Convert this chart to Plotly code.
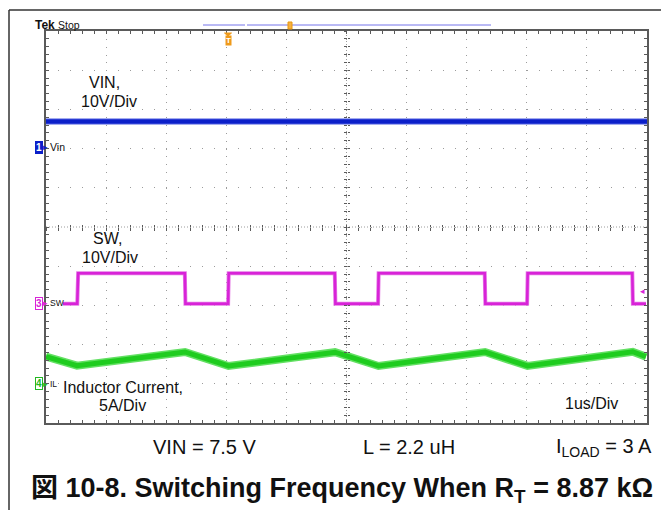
import plotly.graph_objects as go

W, H = 661, 510

# ---------------- data ----------------
T_RANGE = [0, 10]        # time, us (1 us/div, 10 div)
Y_RANGE = [-5, 5]        # screen divisions

VIN_SCALE, VIN_OFFSET = 10.0, 2.04   # V/div, ground position (div)
SW_SCALE, SW_OFFSET = 10.0, -1.94
IL_SCALE, IL_OFFSET = 5.0, -4.0      # A/div

vin_t = [0.0, 10.0]
vin_v = [6.5, 6.5]

sw_t = [0.283, 0.52, 0.535, 2.31, 2.32, 3.03, 3.04, 4.805, 4.815, 5.525, 5.535,
        7.30, 7.31, 8.005, 8.015, 9.755, 9.765, 9.983]
sw_v = [-0.2, -0.2, 7.6, 7.6, -0.2, -0.2, 7.6, 7.6, -0.2, -0.2, 7.6,
        7.6, -0.2, -0.2, 7.6, 7.6, -0.2, -0.2]

il_t = [0.0, 0.516, 2.313, 3.037, 4.809, 5.533, 7.305, 8.012, 9.762, 9.983]
il_a = [3.46, 2.31, 4.06, 2.27, 4.03, 2.27, 4.05, 2.28, 4.09, 3.46]

# ---------------- helpers ----------------
X0, X1, Y0, Y1 = 46, 647, 31, 423   # plot area in px


def px(x):
    return x / W


def py(y):
    return 1 - y / H


def to_div(vals, scale, offset):
    return [v / scale + offset for v in vals]


FONT = "Arial, Liberation Sans, Helvetica, Noto Sans CJK JP, sans-serif"
BLUE = "#0b1fc9"
MAG = "#d823d8"
GREEN = "#1fcc1f"
GRID = "#9c9c9c"
EDGE = "#5a5a5a"

fig = go.Figure()

# IL (thick fuzzy band)
il_y = to_div(il_a, IL_SCALE, IL_OFFSET)
fig.add_trace(go.Scatter(x=il_t, y=il_y, mode="lines",
                         line=dict(color="#63e063", width=8), hoverinfo="skip"))
fig.add_trace(go.Scatter(x=il_t, y=il_y, mode="lines",
                         line=dict(color=GREEN, width=5), hoverinfo="skip"))
# SW
sw_y = to_div(sw_v, SW_SCALE, SW_OFFSET)
fig.add_trace(go.Scatter(x=sw_t, y=sw_y, mode="lines",
                         line=dict(color="#e57be5", width=4), hoverinfo="skip"))
fig.add_trace(go.Scatter(x=sw_t, y=sw_y, mode="lines",
                         line=dict(color=MAG, width=2.5), hoverinfo="skip"))
# VIN
vin_y = to_div(vin_v, VIN_SCALE, VIN_OFFSET)
fig.add_trace(go.Scatter(x=vin_t, y=vin_y, mode="lines",
                         line=dict(color="#4a5ae0", width=6), hoverinfo="skip"))
fig.add_trace(go.Scatter(x=vin_t, y=vin_y, mode="lines",
                         line=dict(color=BLUE, width=4), hoverinfo="skip"))

# empty traces for centre-tick axes
fig.add_trace(go.Scatter(x=[None], y=[None], xaxis="x2", yaxis="y", showlegend=False))
fig.add_trace(go.Scatter(x=[None], y=[None], xaxis="x3", yaxis="y", showlegend=False))
fig.add_trace(go.Scatter(x=[None], y=[None], xaxis="x", yaxis="y2", showlegend=False))
fig.add_trace(go.Scatter(x=[None], y=[None], xaxis="x", yaxis="y3", showlegend=False))

xdom = [px(X0), px(X1)]
ydom = [py(Y1), py(Y0)]
xc = (xdom[0] + xdom[1]) / 2
yc = (ydom[0] + ydom[1]) / 2

common_tick = dict(showticklabels=False, zeroline=False, tickcolor=EDGE)

fig.update_layout(
    width=W, height=H, margin=dict(l=0, r=0, t=0, b=0),
    paper_bgcolor="white", plot_bgcolor="white", showlegend=False,
    font=dict(family=FONT, color="#111"),
    xaxis=dict(domain=xdom, range=T_RANGE, dtick=1, tick0=0,
               showgrid=True, gridcolor=GRID, gridwidth=1, griddash="1px,6.84px",
               ticks="inside", ticklen=3, mirror="allticks",
               minor=dict(dtick=0.2, ticks="inside", ticklen=3, tickcolor=EDGE, showgrid=False),
               showline=True, linecolor=EDGE, linewidth=1.5, anchor="y", **common_tick),
    yaxis=dict(domain=ydom, range=Y_RANGE, dtick=1, tick0=0,
               showgrid=True, gridcolor=GRID, gridwidth=1, griddash="1px,11.02px",
               ticks="inside", ticklen=3, mirror="allticks",
               minor=dict(dtick=0.2, ticks="inside", ticklen=3, tickcolor=EDGE, showgrid=False),
               showline=True, linecolor=EDGE, linewidth=1.5, anchor="x", **common_tick),
    xaxis2=dict(overlaying="x", anchor="free", position=yc, range=T_RANGE,
                dtick=0.2, tick0=0, ticks="outside", ticklen=2.5, showgrid=False,
                showline=False, **common_tick),
    xaxis3=dict(overlaying="x", anchor="free", position=yc, range=T_RANGE,
                dtick=0.2, tick0=0, ticks="inside", ticklen=2.5, showgrid=False,
                showline=False, **common_tick),
    yaxis2=dict(overlaying="y", anchor="free", position=xc, range=Y_RANGE,
                dtick=0.2, tick0=0, ticks="outside", ticklen=2.5, showgrid=False,
                showline=False, **common_tick),
    yaxis3=dict(overlaying="y", anchor="free", position=xc, range=Y_RANGE,
                dtick=0.2, tick0=0, ticks="inside", ticklen=2.5, showgrid=False,
                showline=False, **common_tick),
)

shapes = [
    # outer frame (top & left edges)
    dict(type="line", xref="paper", yref="paper", x0=px(9), x1=1.0, y0=py(10), y1=py(10),
         line=dict(color="#333", width=1.5)),
    dict(type="line", xref="paper", yref="paper", x0=px(9), x1=px(9), y0=py(10), y1=0,
         line=dict(color="#333", width=1.5)),
    # centre cross
    dict(type="line", xref="paper", yref="paper", x0=xdom[0], x1=xdom[1], y0=yc, y1=yc,
         line=dict(color=GRID, width=1, dash="1px,2px"), layer="below"),
    dict(type="line", xref="paper", yref="paper", x0=xc, x1=xc, y0=ydom[0], y1=ydom[1],
         line=dict(color=GRID, width=1, dash="1px,2px"), layer="below"),
    # record bar at top
    dict(type="line", xref="paper", yref="paper", x0=px(203), x1=px(245), y0=py(25), y1=py(25),
         line=dict(color="#7474ea", width=1)),
    dict(type="line", xref="paper", yref="paper", x0=px(247), x1=px(491), y0=py(25), y1=py(25),
         line=dict(color="#7474ea", width=1)),
    dict(type="rect", xref="paper", yref="paper", x0=px(288), x1=px(292), y0=py(29), y1=py(22),
         line=dict(color="#e8960e", width=1), fillcolor="#f5b042"),
    # trigger position marker
    dict(type="path", xref="paper", yref="paper",
         path="M %f %f L %f %f L %f %f Z" % (px(224.5), py(33), px(231.5), py(33), px(228), py(36)),
         line=dict(color="#ef9a1a", width=1), fillcolor="#ef9a1a"),
]
fig.update_layout(shapes=shapes)

ann = []


def text(x, y, s, size, color="#111", bold=False, xanchor="center", **kw):
    if bold:
        s = "<b>" + s + "</b>"
    d = dict(x=px(x), y=py(y), xref="paper", yref="paper", text=s, showarrow=False,
             xanchor=xanchor, yanchor="middle", font=dict(size=size, color=color, family=FONT))
    d.update(kw)
    ann.append(d)


# header
text(33, 25, "Tek", 12, bold=True, xanchor="left")
text(56, 25, "Stop", 10.5, xanchor="left")
# trigger marker
text(228, 40.5, "T", 8, color="white", bold=True, bgcolor="#ef9a1a", borderpad=0)

# channel labels
text(104, 83, "VIN,", 16)
text(109, 102, "10V/Div", 16)
text(108, 238, "SW,", 16)
text(110, 257, "10V/Div", 16)
text(122.5, 387, "Inductor Current,", 16)
text(122, 405, "5A/Div", 16)
text(591, 403, "1us/Div", 16)


# channel ground markers (y in screen divisions)
def chmark(num, offset, color, filled, label, lsize):
    ann.append(dict(x=px(38.5), y=offset, xref="paper", yref="y", text="<b>%s</b>" % num,
                    showarrow=False, xanchor="center", yanchor="middle",
                    font=dict(size=10, color="white" if filled else color, family=FONT),
                    bgcolor=color if filled else "white", bordercolor=color, borderwidth=1,
                    borderpad=0))
    ann.append(dict(x=px(45), y=offset, xref="paper", yref="y", text="▸",
                    showarrow=False, xanchor="center", yanchor="middle",
                    font=dict(size=9, color=color, family=FONT)))
    ann.append(dict(x=px(48), y=offset, xref="paper", yref="y", text=label,
                    showarrow=False, xanchor="left", yanchor="middle",
                    font=dict(size=lsize, color="#111", family=FONT)))


chmark("1", VIN_OFFSET, BLUE, True, "Vin", 10.5)
chmark("3", SW_OFFSET, MAG, False, "SW", 8.5)
chmark("4", IL_OFFSET, "#22b822", False, "IL", 8.5)

# SW trigger level arrow at right
text(642, 291, "◂", 9, color=MAG)

# test conditions
text(204, 447, "VIN = 7.5 V", 20)
text(409, 447, "L = 2.2 uH", 20)
text(604, 447, "I<sub>LOAD</sub> = 3 A", 20)

# caption
text(342, 490, "図 10-8. Switching Frequency When R<sub>T</sub> = 8.87 kΩ", 27, bold=True)

fig.update_layout(annotations=ann)
fig.write_html("out.html", config={"displayModeBar": False},
               post_script="document.body.style.margin='0';document.body.style.overflow='hidden';")
